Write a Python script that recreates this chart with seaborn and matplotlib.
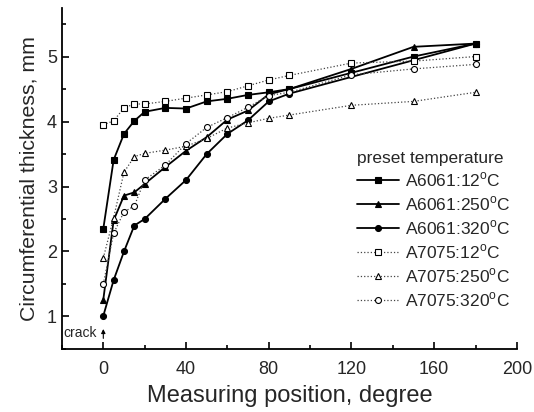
import numpy as np
import pandas as pd
import seaborn as sns
import matplotlib.pyplot as plt
from matplotlib.ticker import MultipleLocator

# measuring positions (degree)
positions = [0, 5, 10, 15, 20, 30, 40, 50, 60, 70, 80, 90, 120, 150, 180]

a6061_12 = [2.35, 3.41, 3.81, 4.01, 4.15, 4.21, 4.20, 4.31, 4.35, 4.41, 4.45, 4.50, 4.75, 5.00, 5.20]
a6061_250 = [1.26, 2.48, 2.86, 2.91, 3.04, 3.30, 3.55, 3.76, 4.03, 4.17, 4.42, 4.50, 4.81, 5.15, 5.20]
a6061_320 = [1.01, 1.56, 2.00, 2.40, 2.50, 2.81, 3.10, 3.50, 3.81, 4.02, 4.31, 4.43, np.nan, np.nan, 5.20]
a7075_12 = [3.95, 4.01, 4.21, 4.27, 4.27, 4.31, 4.36, 4.41, 4.46, 4.55, 4.64, 4.71, 4.90, 4.93, 5.00]
a7075_250 = [1.90, 2.52, 3.22, 3.46, 3.51, 3.56, 3.62, 3.74, 3.90, 3.98, 4.05, 4.10, 4.25, 4.31, 4.45]
a7075_320 = [1.50, 2.28, 2.61, 2.70, 3.10, 3.33, 3.66, 3.91, 4.06, 4.22, 4.40, 4.45, 4.72, 4.81, 4.88]

labels = ['A6061:12$^\\mathrm{o}$C', 'A6061:250$^\\mathrm{o}$C', 'A6061:320$^\\mathrm{o}$C',
          'A7075:12$^\\mathrm{o}$C', 'A7075:250$^\\mathrm{o}$C', 'A7075:320$^\\mathrm{o}$C']
series = [a6061_12, a6061_250, a6061_320, a7075_12, a7075_250, a7075_320]

rows = []
for lab, vals in zip(labels, series):
    for p, v in zip(positions, vals):
        if not np.isnan(v):
            rows.append({'position': p, 'thickness': v, 'sample': lab})
df = pd.DataFrame(rows)

sns.set_style('ticks')
plt.rcParams['font.family'] = ['Liberation Sans', 'DejaVu Sans']
plt.rcParams['mathtext.fontset'] = 'custom'
plt.rcParams['mathtext.rm'] = 'Liberation Sans'

fig = plt.figure(figsize=(5.34, 4.12), dpi=100)
ax = fig.add_axes([0.116, 0.153, 0.852, 0.828])

styles = [
    dict(marker='s', linestyle='-', lw=1.3, mfc='black', color='black'),
    dict(marker='^', linestyle='-', lw=1.3, mfc='black', color='black'),
    dict(marker='o', linestyle='-', lw=1.3, mfc='black', color='black'),
    dict(marker='s', linestyle=':', lw=0.9, mfc='white', color='#444444'),
    dict(marker='^', linestyle=':', lw=0.9, mfc='white', color='#444444'),
    dict(marker='o', linestyle=':', lw=0.9, mfc='white', color='#444444'),
]
for lab, st in zip(labels, styles):
    sub = df[df['sample'] == lab]
    sns.lineplot(data=sub, x='position', y='thickness', ax=ax, label=lab,
                 color=st['color'], marker=st['marker'], linestyle=st['linestyle'],
                 linewidth=st['lw'], markersize=4.3, markerfacecolor=st['mfc'],
                 markeredgecolor='black', markeredgewidth=0.8)

ax.set_xlim(-20, 200)
ax.set_ylim(0.5, 5.75)
ax.xaxis.set_major_locator(MultipleLocator(40))
ax.xaxis.set_minor_locator(MultipleLocator(20))
ax.yaxis.set_major_locator(MultipleLocator(1))
ax.yaxis.set_minor_locator(MultipleLocator(0.5))
ax.tick_params(which='both', direction='in', labelsize=13, width=1.2, color='black')
ax.tick_params(which='major', length=5)
ax.tick_params(which='minor', length=3)
ax.tick_params(axis='x', which='major', pad=9)
sns.despine(ax=ax)
for s in ['left', 'bottom']:
    ax.spines[s].set_linewidth(1.3)
    ax.spines[s].set_color('black')

ax.set_xlabel('Measuring position, degree', fontsize=17, labelpad=5)
ax.set_ylabel('Circumferential thickness, mm', fontsize=15.3, labelpad=6)

ax.text(-19.5, 0.75, 'crack', fontsize=10, va='center', ha='left')
ax.annotate('', xy=(0, 0.85), xytext=(0, 0.62),
            arrowprops=dict(arrowstyle='-|>', color='black', lw=0.8, mutation_scale=6))

leg = ax.legend(title='preset temperature', loc='upper left',
                bbox_to_anchor=(0.633, 0.602), frameon=False, fontsize=12.5,
                title_fontsize=12.5, handlelength=2.4, labelspacing=0.3,
                handletextpad=0.4, borderaxespad=0, alignment='left')

fig.savefig('out.png', dpi=100)
